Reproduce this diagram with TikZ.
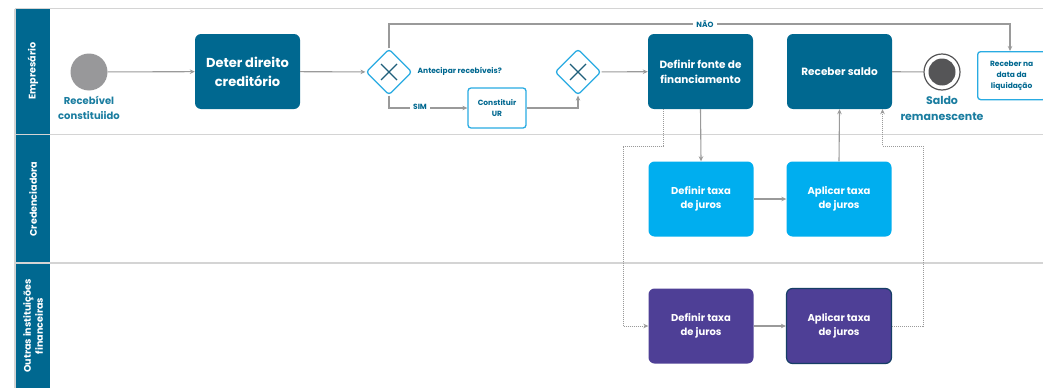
\documentclass[tikz,border=0pt]{standalone}
\usepackage{fontspec}
\setmainfont{Poppins}
\usetikzlibrary{arrows.meta,shapes.geometric}
\definecolor{teal}{HTML}{006890}
\definecolor{cyanbox}{HTML}{00AEEF}
\definecolor{purp}{HTML}{4E3F96}
\definecolor{purpborder}{HTML}{163E66}
\definecolor{lbltxt}{HTML}{1A7DA0}
\definecolor{conn}{HTML}{9A9A9A}
\definecolor{lanegray}{HTML}{D4D4D4}
\definecolor{gwblue}{HTML}{29ABE2}
\definecolor{gwx}{HTML}{1F5F7A}
\definecolor{startgray}{HTML}{98989A}
\definecolor{endgray}{HTML}{555557}
\tikzset{
  task/.style={rectangle, rounded corners=6pt, minimum width=105pt, minimum height=75pt, align=center, text=white, font=\bfseries\fontsize{10}{14}\selectfont, inner sep=2pt},
  bigtask/.style={task, fill=teal, font=\bfseries\fontsize{13}{19}\selectfont},
  midtask/.style={task, fill=teal, font=\bfseries\fontsize{10.5}{15}\selectfont},
  credtask/.style={task, fill=cyanbox},
  outtask/.style={task, fill=purp},
  smalltask/.style={rectangle, rounded corners=3pt, draw=gwblue, line width=1.3pt, fill=white, align=center, text=teal, font=\bfseries\fontsize{7.5}{11}\selectfont, inner sep=1pt},
  gateway/.style={diamond, draw=gwblue, line width=1.3pt, fill=white, minimum width=46pt, minimum height=46pt, rounded corners=3pt, inner sep=0pt},
  lbl/.style={text=lbltxt, font=\bfseries\fontsize{10}{15}\selectfont, align=center},
  smalllbl/.style={text=teal, font=\bfseries\fontsize{7.5}{9}\selectfont, inner sep=1.5pt},
  conn/.style={draw=conn, line width=1.1pt, -{Stealth[length=5pt,width=4.5pt]}},
  connplain/.style={draw=conn, line width=1.1pt},
  dotconn/.style={draw=conn, line width=1pt, dash pattern=on 1pt off 1pt, -{Stealth[length=5pt,width=4.5pt]}},
  headtxt/.style={rotate=90, text=white, font=\bfseries\fontsize{9.6}{12}\selectfont, align=center},
  laneline/.style={draw=lanegray, line width=1.5pt}
}
\begin{document}
\begin{tikzpicture}[x=1pt,y=-1pt]
\useasboundingbox (0,0) rectangle (1043,388);
\fill[white] (0,0) rectangle (1043,388);
% pool and lanes
\draw[laneline] (15,8.5) -- (1043,8.5);
\draw[laneline] (15,134.5) -- (1043,134.5);
\draw[laneline] (15,263) -- (1043,263);
\draw[laneline] (15,8.5) -- (15,388);
\fill[teal] (15.8,9.3) rectangle (50,133.7);
\fill[teal] (15.8,135.3) rectangle (50,262.2);
\fill[teal] (15.8,263.8) rectangle (50,388);
\node[headtxt] (h1) at (33,71) {Empresário};
\node[headtxt] (h2) at (33,199) {Credenciadora};
\node[headtxt] (h3) at (33,326) {Outras instituições\\financeiras};

% Empresario lane
\node[circle, fill=startgray, minimum size=37pt, inner sep=0pt] (start) at (89,72) {};
\node[lbl] (startlbl) at (89,107.5) {Recebível\\constituiido};
\node[bigtask] (deter) at (247.5,71.5) {Deter direito\\creditório};
\node[gateway] (g1) at (389,72) {};
\draw[gwx, line width=1.2pt] ([shift={(-8,-8)}]g1.center) -- ([shift={(8,8)}]g1.center) ([shift={(-8,8)}]g1.center) -- ([shift={(8,-8)}]g1.center);
\node[smalllbl, anchor=west] (anteclbl) at (416,71) {Antecipar recebíveis?};
\node[smalltask, minimum width=58pt, minimum height=40pt] (ur) at (497,108) {Constituir\\UR};
\node[gateway] (g2) at (578,72) {};
\draw[gwx, line width=1.2pt] ([shift={(-8,-8)}]g2.center) -- ([shift={(8,8)}]g2.center) ([shift={(-8,8)}]g2.center) -- ([shift={(8,-8)}]g2.center);
\node[midtask] (fonte) at (700.5,71.5) {Definir fonte de\\financiamento};
\node[midtask] (saldo) at (839.5,71.5) {Receber saldo};
\node[circle, draw=endgray, line width=1.2pt, fill=white, minimum size=36pt, inner sep=0pt] (end) at (942,72) {};
\node[circle, fill=endgray, minimum size=27pt, inner sep=0pt] (endin) at (end.center) {};
\node[lbl, font=\bfseries\fontsize{11}{16}\selectfont] (endlbl) at (942,108) {Saldo\\remanescente};
\node[smalltask, minimum width=68pt, minimum height=48pt, anchor=north west] (liq) at (977,51) {Receber na\\data da\\liquidação};

% Credenciadora lane
\node[credtask] (cdef) at (701,199) {Definir taxa\\de juros};
\node[credtask] (capl) at (839,199) {Aplicar taxa\\de juros};
% Outras lane
\node[outtask] (odef) at (701,326) {Definir taxa\\de juros};
\node[outtask, draw=purpborder, line width=1.2pt] (oapl) at (839,326) {Aplicar taxa\\de juros};

% connectors
\draw[conn] (start) -- (deter);
\draw[conn] (deter) -- (g1);
\draw[conn] (g1.north) |- (1010,24) -- (1010,51) node[coordinate] (liqtop) {};
\node[smalllbl, fill=white, inner xsep=3pt] (naolbl) at (705,24) {NÃO};
\draw[conn] (g1.south) |- (ur.west);
\node[smalllbl, fill=white, inner xsep=3pt] (simlbl) at (420,107) {SIM};
\draw[conn] (ur.east) -| (g2.south);
\draw[conn] (g2) -- (fonte);
\draw[connplain] (saldo) -- (end);
\draw[conn] (fonte.south) -- (cdef.north);
\draw[conn] (cdef) -- (capl);
\draw[conn] (capl.north) -- (saldo.south);
\draw[conn] (odef) -- (oapl);
\draw[dotconn] ([xshift=-37pt]fonte.south) |- (623,146) |- (odef.west);
\draw[dotconn] (oapl.east) -| (923,146) -| ([xshift=43pt]saldo.south);
\end{tikzpicture}
\end{document}
